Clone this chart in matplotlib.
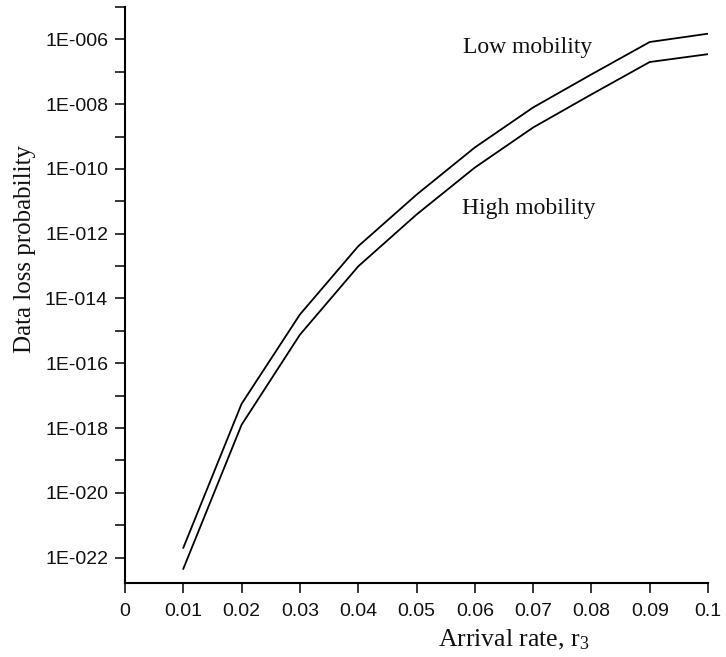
import matplotlib
matplotlib.use('Agg')
import matplotlib.pyplot as plt
from matplotlib.ticker import FixedLocator, NullFormatter

# ---- data ----
rate = [0.01, 0.02, 0.03, 0.04, 0.05, 0.06, 0.07, 0.08, 0.09, 0.10]
low_mobility = [2.0e-22, 5.6e-18, 3.2e-15, 4.1e-13, 1.6e-11,
                4.6e-10, 7.9e-09, 8.3e-08, 8.3e-07, 1.5e-06]
high_mobility = [4.5e-23, 1.26e-18, 7.6e-16, 9.8e-14, 3.9e-12,
                 1.1e-10, 1.9e-09, 2.0e-08, 2.0e-07, 3.5e-07]

x_ticks = [0, 0.01, 0.02, 0.03, 0.04, 0.05, 0.06, 0.07, 0.08, 0.09, 0.1]
x_tick_labels = ['0', '0.01', '0.02', '0.03', '0.04', '0.05',
                 '0.06', '0.07', '0.08', '0.09', '0.1']
y_major = [1e-22, 1e-20, 1e-18, 1e-16, 1e-14, 1e-12, 1e-10, 1e-08, 1e-06]
y_major_labels = ['1E-022', '1E-020', '1E-018', '1E-016', '1E-014',
                  '1E-012', '1E-010', '1E-008', '1E-006']
y_minor = [1e-21, 1e-19, 1e-17, 1e-15, 1e-13, 1e-11, 1e-09, 1e-07, 1e-05]

plt.rcParams['mathtext.fontset'] = 'custom'
plt.rcParams['mathtext.rm'] = 'Liberation Serif'

W, H = 726, 657
fig = plt.figure(figsize=(W / 100, H / 100), dpi=100)
left, right, top, bottom = 125, 708, 7, 583
ax = fig.add_axes([left / W, 1 - bottom / H, (right - left) / W, (bottom - top) / H])

ax.plot(rate, low_mobility, color='black', lw=1.3)
ax.plot(rate, high_mobility, color='black', lw=1.3)

ax.set_yscale('log')
ax.set_xlim(0, 0.1)
ax.set_ylim(1.64e-23, 1e-05)

ax.xaxis.set_major_locator(FixedLocator(x_ticks))
ax.set_xticklabels(x_tick_labels)
ax.yaxis.set_major_locator(FixedLocator(y_major))
ax.set_yticklabels(y_major_labels)
ax.yaxis.set_minor_locator(FixedLocator(y_minor))
ax.yaxis.set_minor_formatter(NullFormatter())

for s in ['top', 'right']:
    ax.spines[s].set_visible(False)
for s in ['left', 'bottom']:
    ax.spines[s].set_linewidth(1.5)

ax.tick_params(axis='both', which='both', direction='out', length=7.2, width=1.1)
ax.tick_params(axis='x', pad=7)
ax.tick_params(axis='y', pad=5)
for lab in ax.get_xticklabels() + ax.get_yticklabels():
    lab.set_fontfamily('Liberation Sans')
    lab.set_fontsize(14)
    lab.set_color('#111111')

serif = 'Liberation Serif'
fig.text(438 / W, 1 - 646 / H, r'Arrival rate, $\mathregular{r_3}$',
         ha='left', va='baseline', family=serif, fontsize=18.5, color='#111111')
fig.text(25 / W, 1 - 249 / H, 'Data loss probability', rotation=90,
         ha='center', va='center', family=serif, fontsize=18, color='#111111')
fig.text(463 / W, 1 - 53 / H, 'Low mobility', ha='left', va='baseline',
         family=serif, fontsize=17, color='#111111')
fig.text(462 / W, 1 - 214 / H, 'High mobility', ha='left', va='baseline',
         family=serif, fontsize=17, color='#111111')

fig.savefig('out.png', dpi=100)
